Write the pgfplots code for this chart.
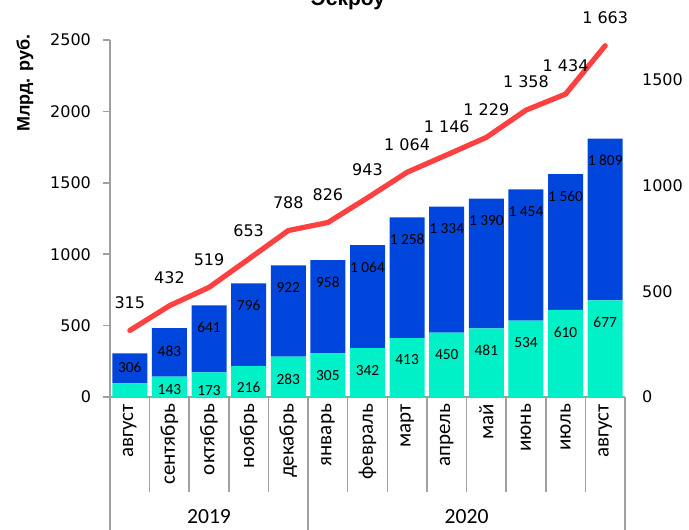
\documentclass[border=0pt]{standalone}
\usepackage{fontspec}
\setmainfont{DejaVu Sans}
\newfontfamily\carlito{Carlito}
\newfontfamily\arialf{Liberation Sans}
\usepackage{pgfplots}
\pgfplotsset{compat=1.18}
\usepackage{pgfplotstable}
\definecolor{barblue}{RGB}{0,70,220}
\definecolor{barcyan}{RGB}{0,240,200}
\definecolor{linered}{RGB}{255,64,64}
\definecolor{axgray}{RGB}{160,160,160}

\pgfplotstableread{
x bottom topseg
0 96 210
1 143 340
2 173 468
3 216 580
4 283 639
5 305 653
6 342 722
7 413 845
8 450 884
9 481 909
10 534 920
11 610 950
12 677 1132
}\bars

\pgfplotsset{
  common/.style={
    at={(0,0)}, anchor=south west,
    scale only axis, width=257.5pt, height=178.5pt,
    xmin=-0.5, xmax=12.5, clip=false,
    /pgf/number format/assume math mode=true,
    /pgf/number format/1000 sep={},
  }
}

\begin{document}
\begin{tikzpicture}
% bars
\begin{axis}[common,
  ymin=0, ymax=2500,
  ybar stacked, bar width=17.5pt,
  axis x line*=bottom, axis y line*=left,
  axis line style={axgray, line width=0.8pt, -},
  ytick=\empty,
  xtick={-0.5,0.5,...,12.5},
  x tick label as interval,
  xticklabels={август,сентябрь,октябрь,ноябрь,декабрь,январь,февраль,март,апрель,май,июнь,июль,август},
  xticklabel style={yshift=47.5pt, rotate=90, anchor=east, font=\carlito\fontsize{10.5}{12}\selectfont},
  major tick length=47.5pt, tick align=outside,
  xtick style={draw=axgray, line width=0.8pt},
]
\addplot[fill=barcyan, draw=none] table[x=x,y=bottom]{\bars};
\addplot[fill=barblue, draw=none] table[x=x,y=topseg]{\bars};
\end{axis}
% bar labels + left ticks
\begin{axis}[common,
  ymin=0, ymax=2500,
  axis x line=none, axis y line*=left,
  axis line style={axgray, line width=0.8pt, -},
  ytick={0,500,...,2500}, tick align=outside, major tick length=3.5pt,
  ytick style={draw=axgray, line width=0.8pt},
  yticklabel style={font=\fontsize{8}{9}\selectfont, xshift=-2.5pt},
]
\addplot[draw=none, mark=none, nodes near coords, point meta=explicit symbolic,
  every node near coord/.append style={anchor=center, font=\carlito\fontsize{7.7}{9}\selectfont, text=black}]
  coordinates {(0,210)[306] (1,322)[483] (2,485)[641] (3,644)[796] (4,768)[922] (5,804)[958] (6,910)[1~064] (7,1104)[1~258] (8,1180)[1~334] (9,1236)[1~390] (10,1300)[1~454] (11,1406)[1~560] (12,1655)[1~809]};
\addplot[draw=none, mark=none, nodes near coords, point meta=explicit symbolic,
  every node near coord/.append style={anchor=center, font=\carlito\fontsize{7.7}{9}\selectfont, text=black}]
  coordinates {(1,49)[143] (2,42)[173] (3,68)[216] (4,126)[283] (5,151)[305] (6,188)[342] (7,259)[413] (8,296)[450] (9,327)[481] (10,380)[534] (11,456)[610] (12,523)[677]};
\end{axis}
% years
\begin{axis}[common,
  ymin=0, ymax=2500,
  axis x line*=bottom, axis y line=none,
  axis line style={draw=none},
  xtick={-0.5,4.5,12.5}, xticklabels={2019,2020}, x tick label as interval,
  major tick length=70pt, tick align=outside,
  xtick style={draw=axgray, line width=0.8pt},
  xticklabel style={font=\carlito\fontsize{10.8}{12}\selectfont, anchor=center, yshift=10pt},
]
\end{axis}
% line
\begin{axis}[common,
  ymin=0, ymax=1690,
  axis y line*=right, axis x line=none,
  axis line style={draw=none},
  ytick={0,500,1000,1500}, ytick style={draw=none}, major tick length=0pt,
  yticklabel style={font=\fontsize{8}{9}\selectfont, anchor=west, xshift=5pt},
]
\addplot[linered, line width=2.6pt, line cap=round, line join=round, mark=none,
  nodes near coords, point meta=explicit symbolic,
  every node near coord/.append style={anchor=center, yshift=14pt, font=\fontsize{8}{9}\selectfont, text=black}]
  coordinates {(0,315)[315] (1,432)[432] (2,519)[519] (3,653)[653] (4,788)[788] (5,826)[826] (6,943)[943] (7,1064)[1~064] (8,1146)[1~146] (9,1229)[1~229] (10,1358)[1~358] (11,1434)[1~434] (12,1663)[1~663]};
\end{axis}
\node[rotate=90, font=\arialf\bfseries\fontsize{9}{10}\selectfont] at (-42.5pt,157pt) {Млрд. руб.};
\node[anchor=base, font=\arialf\bfseries\fontsize{10.5}{12}\selectfont] at (119pt,195.5pt) {Эскроу};
\pgfresetboundingbox
\path[use as bounding box] (-55pt,-66pt) rectangle (289.5pt,198.5pt);
\end{tikzpicture}
\end{document}
